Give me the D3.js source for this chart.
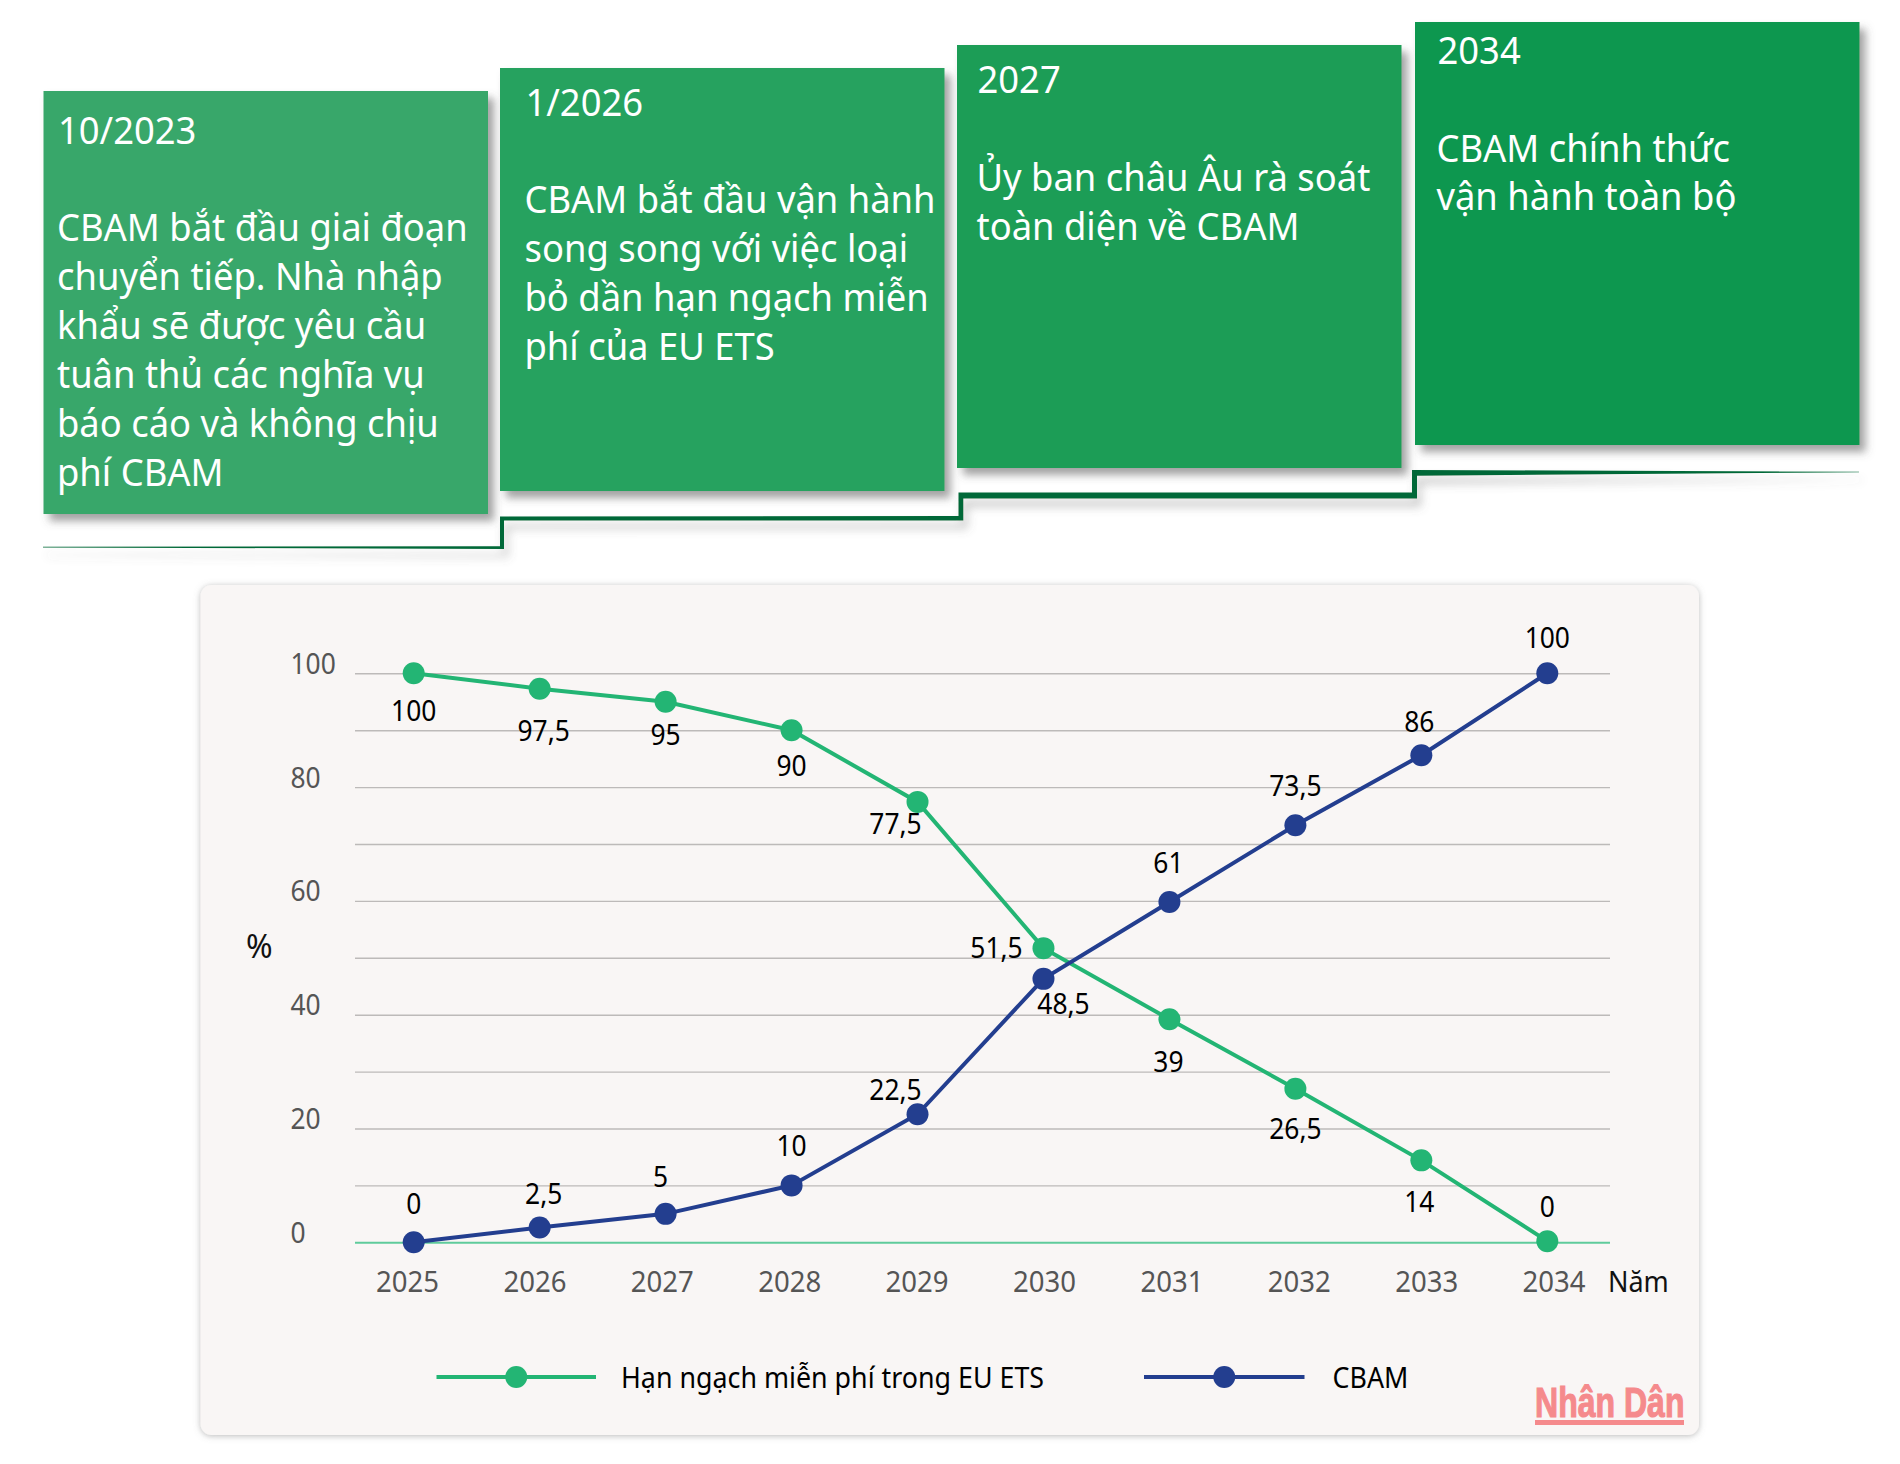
<!DOCTYPE html>
<html>
<head>
<meta charset="utf-8">
<script src="https://cdn.jsdelivr.net/npm/d3@7"></script>
<style>
  html, body { margin: 0; padding: 0; background: #fff; }
  svg { display: block; }
  text { font-family: "Noto Sans", "Open Sans", sans-serif; }
</style>
</head>
<body>
<svg id="chart" width="1900" height="1464"></svg>
<script>
// chart data
const years = [2025, 2026, 2027, 2028, 2029, 2030, 2031, 2032, 2033, 2034]
const etsValues = [100, 97.3, 95, 90, 77.4, 51.7, 39.2, 27, 14.4, 0.2]
const cbamValues = [0, 2.6, 5, 10, 22.5, 46.3, 59.8, 73.3, 85.6, 100]
const etsLabels = ["100", "97,5", "95", "90", "77,5", "51,5", "39", "26,5", "14", "0"]
const cbamLabels = ["0", "2,5", "5", "10", "22,5", "48,5", "61", "73,5", "86", "100"]
const yTicks = [0, 10, 20, 30, 40, 50, 60, 70, 80, 90, 100]
const yLabelled = [0, 20, 40, 60, 80, 100]

const etsName = "Hạn ngạch miễn phí trong EU ETS"
const cbamName = "CBAM"

const cardDates = ["10/2023", "1/2026", "2027", "2034"]
const cardLines = [
  ["CBAM bắt đầu giai đoạn", "chuyển tiếp. Nhà nhập", "khẩu sẽ được yêu cầu", "tuân thủ các nghĩa vụ", "báo cáo và không chịu", "phí CBAM"],
  ["CBAM bắt đầu vận hành", "song song với việc loại", "bỏ dần hạn ngạch miễn", "phí của EU ETS"],
  ["Ủy ban châu Âu rà soát", "toàn diện về CBAM"],
  ["CBAM chính thức", "vận hành toàn bộ"]
]

// layout
const squash = 0.91
const cardSquash = 0.945
const yearSquash = 0.95
const cardX = [43.5, 500, 957, 1415]
const cardY = [91, 68, 45, 22]
const cardW = 444.5
const cardH = 423
const cardFill = ["#38a76a", "#28a25f", "#1b9d57", "#0f974f"]
const cardTextX = [57, 524.5, 976.5, 1436.5]
const cardDateY = [143.5, 115.5, 93.2, 64]
const cardBodyY = [241, 213.2, 191, 161.5]
const cardLineH = 48.9

const green = "#23b574"
const blue = "#233e8f"
const gridLeft = 355
const gridRight = 1610
const dotR = 11

const svg = d3.select("#chart")
svg.append("rect").attr("width", 1900).attr("height", 1464).attr("fill", "#fff")

const defs = svg.append("defs")
const cardShadow = defs.append("filter").attr("id", "cardShadow")
  .attr("x", "-5%").attr("y", "-5%").attr("width", "115%").attr("height", "115%")
cardShadow.append("feDropShadow").attr("dx", 6).attr("dy", 7).attr("stdDeviation", 4)
  .attr("flood-color", "#555").attr("flood-opacity", 0.55)
const panelShadow = defs.append("filter").attr("id", "panelShadow")
  .attr("x", "-3%").attr("y", "-3%").attr("width", "106%").attr("height", "106%")
panelShadow.append("feDropShadow").attr("dx", 0).attr("dy", 1).attr("stdDeviation", 3)
  .attr("flood-color", "#777").attr("flood-opacity", 0.5)
const stepShadow = defs.append("filter").attr("id", "stepShadow")
  .attr("x", "-5%").attr("y", "-50%").attr("width", "110%").attr("height", "300%")
stepShadow.append("feDropShadow").attr("dx", 4).attr("dy", 8).attr("stdDeviation", 5)
  .attr("flood-color", "#666").attr("flood-opacity", 0.4)

function addText(parent, str, x, y, size, fill, anchor, sx) {
  return parent.append("text")
    .attr("transform", `translate(${x},${y}) scale(${sx || squash},1)`)
    .attr("text-anchor", anchor || "start")
    .style("font-size", size + "px")
    .style("fill", fill)
    .text(str)
}

// stepped line under the cards, thin at both ends
const stepTop = [[43, 546.8], [500, 546.2], [500, 516.6], [958.5, 516], [958.5, 492.5], [1412, 492.5], [1412, 470], [1859, 471.8]]
const stepBottom = [[1859, 472.2], [1417, 475.7], [1417, 498.6], [963.3, 498.6], [963.3, 520.5], [504, 520.5], [504, 549], [43, 547.4]]
svg.append("path")
  .attr("d", d3.line()(stepTop.concat(stepBottom)) + "Z")
  .attr("fill", "#006837")
  .attr("filter", "url(#stepShadow)")

// cards
cardDates.forEach((date, i) => {
  svg.append("rect")
    .attr("x", cardX[i]).attr("y", cardY[i])
    .attr("width", cardW).attr("height", cardH)
    .attr("fill", cardFill[i])
    .attr("filter", "url(#cardShadow)")
  addText(svg, date, cardTextX[i] + 1, cardDateY[i], 38.5, "#fff", "start", cardSquash)
  cardLines[i].forEach((line, k) => {
    addText(svg, line, cardTextX[i], cardBodyY[i] + k * cardLineH, 38.5, "#fff", "start", cardSquash)
  })
})

// chart panel
svg.append("rect")
  .attr("x", 200.5).attr("y", 585)
  .attr("width", 1498.5).attr("height", 850)
  .attr("rx", 11)
  .attr("fill", "#f9f6f5")
  .attr("filter", "url(#panelShadow)")

const x = d3.scalePoint().domain(years).range([413.7, 1547.3])
const xTick = d3.scalePoint().domain(years).range([407, 1553.6])
const y = d3.scaleLinear().domain([0, 100]).range([1242.3, 673.3])

// y axis with gridlines
const yAxis = svg.append("g")
  .attr("transform", `translate(${gridLeft},0)`)
  .call(d3.axisLeft(y).tickValues(yTicks).tickSize(-(gridRight - gridLeft))
    .tickFormat(d => yLabelled.includes(d) ? d : ""))
yAxis.select(".domain").remove()
yAxis.selectAll(".tick line")
  .attr("stroke", d => d == 0 ? "#5fcb9b" : "#bdbab9")
  .attr("stroke-width", d => d == 0 ? 2 : 1.4)
yAxis.selectAll(".tick text")
  .attr("x", 0).attr("dy", 0)
  .attr("transform", `translate(${290.5 - gridLeft},0) scale(${squash},1)`)
  .attr("text-anchor", "start")
  .style("font-family", '"Noto Sans", sans-serif')
  .style("font-size", "29px")
  .style("fill", "#555")

// x axis, labels only
const xAxis = svg.append("g")
  .attr("transform", "translate(0,1292)")
  .call(d3.axisBottom(xTick).tickSize(0))
xAxis.select(".domain").remove()
xAxis.selectAll(".tick text")
  .attr("y", 0).attr("dy", 0)
  .attr("transform", `scale(${yearSquash},1)`)
  .style("font-family", '"Noto Sans", sans-serif')
  .style("font-size", "29px")
  .style("fill", "#555")

addText(svg, "%", 246, 958, 32, "#111", "start", 1)
addText(svg, "Năm", 1608, 1292, 29, "#111", "start", 0.93)

// lines and dots
const lineGen = d3.line().x((d, i) => x(years[i])).y(d => y(d))

function drawSeries(values, color) {
  svg.append("path")
    .attr("d", lineGen(values))
    .attr("fill", "none")
    .attr("stroke", color)
    .attr("stroke-width", 4)
  svg.selectAll(null)
    .data(values)
    .enter()
    .append("circle")
    .attr("cx", (d, i) => x(years[i]))
    .attr("cy", d => y(d))
    .attr("r", dotR)
    .attr("fill", color)
}
drawSeries(etsValues, green)
drawSeries(cbamValues, blue)

// value labels, nudged from their points as in the reference
const etsDx = [0, 4, 0, 0, -22, -47, -1, 0, -2, 0]
const etsDy = [48, 52, 43, 46, 32, 10, 53, 50, 52, -24]
const cbamDx = [0, 4, -5, 0, -22, 20, -1, 0, -2, 0]
const cbamDy = [-28, -24, -27, -29, -14, 35, -29, -29, -23, -25]

etsLabels.forEach((label, i) => {
  addText(svg, label, x(years[i]) + etsDx[i], y(etsValues[i]) + etsDy[i], 29, "#000", "middle")
})
cbamLabels.forEach((label, i) => {
  addText(svg, label, x(years[i]) + cbamDx[i], y(cbamValues[i]) + cbamDy[i], 29, "#000", "middle")
})

// legend
function legendItem(x1, x2, textX, color, name) {
  svg.append("line")
    .attr("x1", x1).attr("x2", x2)
    .attr("y1", 1377).attr("y2", 1377)
    .attr("stroke", color).attr("stroke-width", 4)
  svg.append("circle")
    .attr("cx", (x1 + x2) / 2).attr("cy", 1377)
    .attr("r", dotR).attr("fill", color)
  addText(svg, name, textX, 1388, 29, "#000", "start", 0.925)
}
legendItem(436.5, 596, 621, green, etsName)
legendItem(1144, 1304.5, 1332.5, blue, cbamName)

// watermark
svg.append("text")
  .attr("transform", "translate(1535,1417) scale(0.745,1)")
  .style("font-family", '"Liberation Sans", sans-serif')
  .style("font-weight", "bold")
  .style("font-size", "43px")
  .style("fill", "#f58a8c")
  .style("stroke", "#f58a8c")
  .style("stroke-width", 1.2)
  .text("Nhân Dân")
svg.append("rect")
  .attr("x", 1535).attr("y", 1420)
  .attr("width", 149).attr("height", 5)
  .attr("fill", "#f58a8c")
</script>
</body>
</html>
